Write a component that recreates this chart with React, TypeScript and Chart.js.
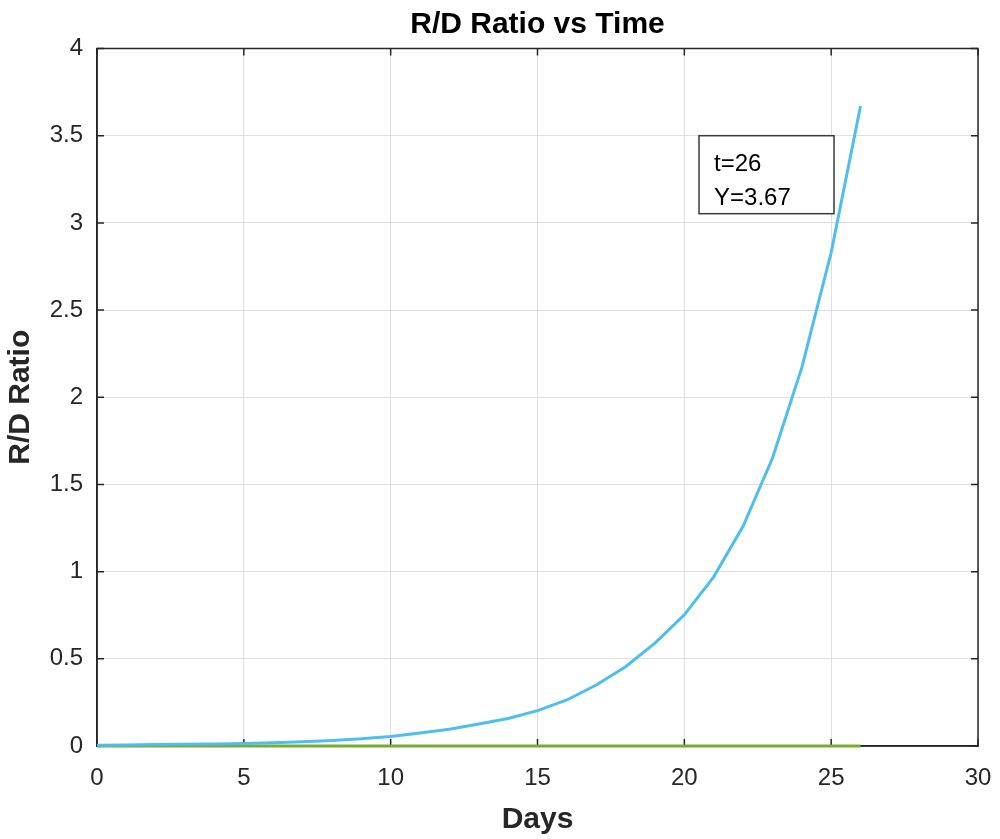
import { useEffect, useRef } from 'react';
import { Chart, registerables } from 'chart.js';

Chart.register(...registerables);

// days 0..26 and the R/D ratio
const days = [0, 1, 2, 3, 4, 5, 6, 7, 8, 9, 10, 11, 12, 13, 14, 15, 16, 17, 18, 19, 20, 21, 22, 23, 24, 25, 26];
const rdRatio = [
  0.005, 0.006, 0.008, 0.01, 0.012, 0.015, 0.019, 0.024, 0.031, 0.041, 0.055, 0.074, 0.096, 0.126,
  0.158, 0.203, 0.264, 0.35, 0.455, 0.59, 0.752, 0.97, 1.26, 1.65, 2.17, 2.83, 3.67,
];
// flat green reference line along zero
const baseline = [0, 0, 0, 0, 0, 0, 0, 0, 0, 0, 0, 0, 0, 0, 0, 0, 0, 0, 0, 0, 0, 0, 0, 0, 0, 0, 0];

// data-tip text box, anchored at its top-left corner in data units
const tipAnchor = { x: 20.5, y: 3.5 };
const tipLines = [`t=${days[days.length - 1]}`, `Y=${rdRatio[rdRatio.length - 1].toFixed(2)}`];

const FONT = "'Liberation Sans', Arial, sans-serif";
const AXIS = '#262626';
const NONE = 'rgba(0,0,0,0)';

// matlab style: box on all four sides with inward tick marks (under the lines)
const framePlugin = {
  id: 'frame',
  beforeDatasetsDraw(chart: Chart) {
    const { ctx, chartArea: a, scales } = chart;
    const xs = scales.x;
    const ys = scales.y;
    ctx.save();
    ctx.strokeStyle = AXIS;
    ctx.lineWidth = 1.5;
    ctx.strokeRect(a.left, a.top, a.right - a.left, a.bottom - a.top);

    const len = 7;
    ctx.beginPath();
    xs.ticks.forEach((t) => {
      const px = xs.getPixelForValue(t.value);
      ctx.moveTo(px, a.bottom);
      ctx.lineTo(px, a.bottom - len);
      ctx.moveTo(px, a.top);
      ctx.lineTo(px, a.top + len);
    });
    ys.ticks.forEach((t) => {
      const py = ys.getPixelForValue(t.value);
      ctx.moveTo(a.left, py);
      ctx.lineTo(a.left + len, py);
      ctx.moveTo(a.right, py);
      ctx.lineTo(a.right - len, py);
    });
    ctx.stroke();
    ctx.restore();
  },
  // data tip on top of everything
  afterDatasetsDraw(chart: Chart) {
    const { ctx, scales } = chart;
    const bx = scales.x.getPixelForValue(tipAnchor.x);
    const by = scales.y.getPixelForValue(tipAnchor.y);
    const bw = 135;
    const bh = 78;
    ctx.save();
    ctx.fillStyle = '#ffffff';
    ctx.fillRect(bx, by, bw, bh);
    ctx.strokeStyle = '#3a3a3a';
    ctx.lineWidth = 1.5;
    ctx.strokeRect(bx, by, bw, bh);
    ctx.fillStyle = '#000000';
    ctx.font = `24px ${FONT}`;
    ctx.textBaseline = 'middle';
    ctx.textAlign = 'left';
    tipLines.forEach((line, i) => {
      ctx.fillText(line, bx + 15, by + 29 + i * 34);
    });
    ctx.restore();
  },
};

export default function App() {
  const canvasRef = useRef<HTMLCanvasElement>(null);

  useEffect(() => {
    document.body.style.margin = '0';
    if (!canvasRef.current) return;

    const chart = new Chart(canvasRef.current, {
      type: 'line',
      data: {
        labels: days,
        datasets: [
          {
            data: days.map((d, i) => ({ x: d, y: rdRatio[i] })),
            borderColor: '#4DBEEE',
            borderWidth: 3,
            pointRadius: 0,
            tension: 0,
            clip: false,
          },
          {
            data: days.map((d, i) => ({ x: d, y: baseline[i] })),
            borderColor: '#77AC30',
            borderWidth: 3,
            pointRadius: 0,
            clip: false,
          },
        ],
      },
      options: {
        animation: false,
        responsive: true,
        maintainAspectRatio: false,
        layout: { padding: { left: 0, right: 22, top: 0, bottom: 0 } },
        plugins: {
          legend: { display: false },
          tooltip: { enabled: false },
          title: {
            display: true,
            text: 'R/D Ratio vs Time',
            fullSize: false,
            color: '#000000',
            font: { family: FONT, size: 30, weight: 'bold' },
            padding: { top: 6.5, bottom: 6 },
          },
        },
        scales: {
          x: {
            type: 'linear',
            min: 0,
            max: 30,
            ticks: {
              stepSize: 5,
              color: AXIS,
              padding: 0,
              font: { family: FONT, size: 24 },
              maxRotation: 0,
            },
            // invisible outer tick marks just push the labels down
            grid: { color: '#dedede', lineWidth: 1, drawTicks: true, tickLength: 18, tickColor: NONE },
            border: { display: true, color: AXIS, width: 1.5 },
            title: {
              display: true,
              text: 'Days',
              color: AXIS,
              font: { family: FONT, size: 30, weight: 'bold' },
              padding: { top: 0, bottom: 1 },
            },
            afterFit: (scale) => {
              scale.height = 93;
            },
          },
          y: {
            min: 0,
            max: 4,
            ticks: {
              stepSize: 0.5,
              color: AXIS,
              padding: 14,
              font: { family: FONT, size: 24 },
              callback: (v) => String(Number(v)),
            },
            grid: { color: '#dedede', lineWidth: 1, drawTicks: false },
            border: { display: true, color: AXIS, width: 1.5 },
            title: {
              display: true,
              text: 'R/D Ratio',
              color: AXIS,
              font: { family: FONT, size: 30, weight: 'bold' },
              padding: { top: 3, bottom: 0 },
            },
            afterFit: (scale) => {
              scale.width = 97;
            },
          },
        },
      },
      plugins: [framePlugin],
    });

    return () => chart.destroy();
  }, []);

  return (
    <div style={{ width: '1000px', height: '839px', position: 'relative', background: '#ffffff' }}>
      <canvas ref={canvasRef} />
    </div>
  );
}
